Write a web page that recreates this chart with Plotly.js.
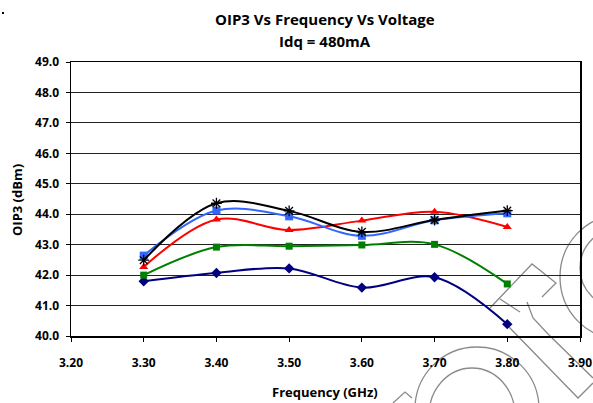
<!DOCTYPE html>
<html><head><meta charset="utf-8">
<script src="https://cdn.plot.ly/plotly-3.0.1.min.js"></script>
<style>html,body{margin:0;padding:0;background:#fff}#chart{width:593px;height:403px}</style>
</head><body><div id="chart"></div>
<script>
const freq = [3.30, 3.40, 3.50, 3.60, 3.70, 3.80];
const seriesNavy  = [41.80, 42.07, 42.22, 41.59, 41.93, 40.39];
const seriesGreen = [42.00, 42.92, 42.95, 42.99, 43.01, 41.71];
const seriesRed   = [42.27, 43.83, 43.48, 43.79, 44.08, 43.58];
const seriesBlue  = [42.64, 44.12, 43.93, 43.29, 43.80, 44.03];
const seriesBlack = [42.49, 44.36, 44.11, 43.42, 43.81, 44.12];
const xTicks = [3.20, 3.30, 3.40, 3.50, 3.60, 3.70, 3.80, 3.90];
const yTicks = [40, 41, 42, 43, 44, 45, 46, 47, 48, 49];
const titleLines = ['OIP3 Vs Frequency Vs Voltage', 'Idq = 480mA'];
const xTitle = 'Frequency (GHz)';
const yTitle = 'OIP3 (dBm)';

const W = 593, H = 403, L = 71, R = 13, T = 62, B = 67;
const PW = W - L - R, PH = H - T - B;
const px = v => (v - L) / PW;
const py = v => (H - B - v) / PH;

function tr(y, color, symbol, size, mline) {
  return {x: freq, y: y, type: 'scatter', mode: 'lines+markers',
    line: {color: color, width: 2, shape: 'spline', smoothing: 1},
    marker: {symbol: symbol, size: size, color: color, line: mline || {width: 0}},
    showlegend: false, hoverinfo: 'skip'};
}
const data = [
  tr(seriesNavy, '#000080', 'diamond', 8),
  tr(seriesGreen, '#008000', 'square', 7),
  tr(seriesRed, '#FF0000', 'triangle-up', 8),
  tr(seriesBlue, '#3366FF', 'square', 8),
  tr(seriesBlack, '#000000', 'asterisk-open', 9, {color: '#000000', width: 1.3})
];
const fontB = '"Open Sans", Lato, sans-serif';
const wm = {color: '#8a8a8a', width: 1.3};
function ell(x0, y0, x1, y1) {
  return {type: 'circle', xref: 'paper', yref: 'paper', x0: px(x0), x1: px(x1), y0: py(y1), y1: py(y0), line: wm, layer: 'below'};
}
function path(pts) {
  const d = pts.map((p, i) => (i ? 'L' : 'M') + px(p[0]).toFixed(4) + ',' + py(p[1]).toFixed(4)).join(' ');
  return {type: 'path', xref: 'paper', yref: 'paper', path: d, line: wm, layer: 'below'};
}
const layout = {
  width: W, height: H,
  margin: {l: L, r: R, t: T, b: B},
  paper_bgcolor: '#fff', plot_bgcolor: 'rgba(0,0,0,0)',
  xaxis: {range: [3.2, 3.9], tickvals: xTicks, ticktext: xTicks.map(v => '<b>' + v.toFixed(2) + '</b>'),
    ticks: 'outside', ticklen: 4, tickcolor: '#000', showline: true, linecolor: '#000', linewidth: 1.5,
    mirror: true, showgrid: false, zeroline: false, fixedrange: true, ticklabelstandoff: 11,
    tickfont: {family: fontB, size: 12, color: '#000'}},
  yaxis: {range: [40, 49], tickvals: yTicks, ticktext: yTicks.map(v => '<b>' + v.toFixed(1) + '</b>'),
    ticks: 'outside', ticklen: 4, tickcolor: '#000', showline: true, linecolor: '#000', linewidth: 1.5,
    mirror: true, showgrid: true, gridcolor: '#222', gridwidth: 1, zeroline: false, fixedrange: true,
    ticklabelstandoff: 4,
    tickfont: {family: fontB, size: 12, color: '#000'}},
  annotations: [
    {text: '<b>' + titleLines[0] + '</b>', xref: 'paper', yref: 'paper', x: px(325), y: py(19), xanchor: 'center', yanchor: 'middle', showarrow: false, font: {family: fontB, size: 15, color: '#000'}},
    {text: '<b>' + titleLines[1] + '</b>', xref: 'paper', yref: 'paper', x: px(325), y: py(41), xanchor: 'center', yanchor: 'middle', showarrow: false, font: {family: fontB, size: 15, color: '#000'}},
    {text: '<b>' + xTitle + '</b>', xref: 'paper', yref: 'paper', x: px(325), y: py(392), xanchor: 'center', yanchor: 'middle', showarrow: false, font: {family: fontB, size: 13, color: '#000'}},
    {text: '<b>' + yTitle + '</b>', xref: 'paper', yref: 'paper', x: px(17), y: py(200), xanchor: 'center', yanchor: 'middle', textangle: -90, showarrow: false, font: {family: fontB, size: 13, color: '#000'}}
  ],
  shapes: [
    {type: 'rect', xref: 'paper', yref: 'paper', x0: px(2), x1: px(4), y0: py(14), y1: py(12), fillcolor: '#000', line: {width: 0}},
    ell(560, 215, 680, 339),
    ell(580, 228, 660, 308),
    ell(415, 347, 539, 471),
    ell(429, 368, 515, 462),
    path([[490, 308], [532, 264], [556, 283], [542, 297]]),
    path([[500, 299], [520, 312]]),
    path([[507, 325], [578, 398], [593, 383]]),
    path([[527, 302], [533, 318], [548, 334], [593, 378]]),
    path([[393, 403], [405, 392], [412, 398]])
  ]
};
Plotly.newPlot('chart', data, layout, {staticPlot: true, displayModeBar: false});
</script></body></html>
